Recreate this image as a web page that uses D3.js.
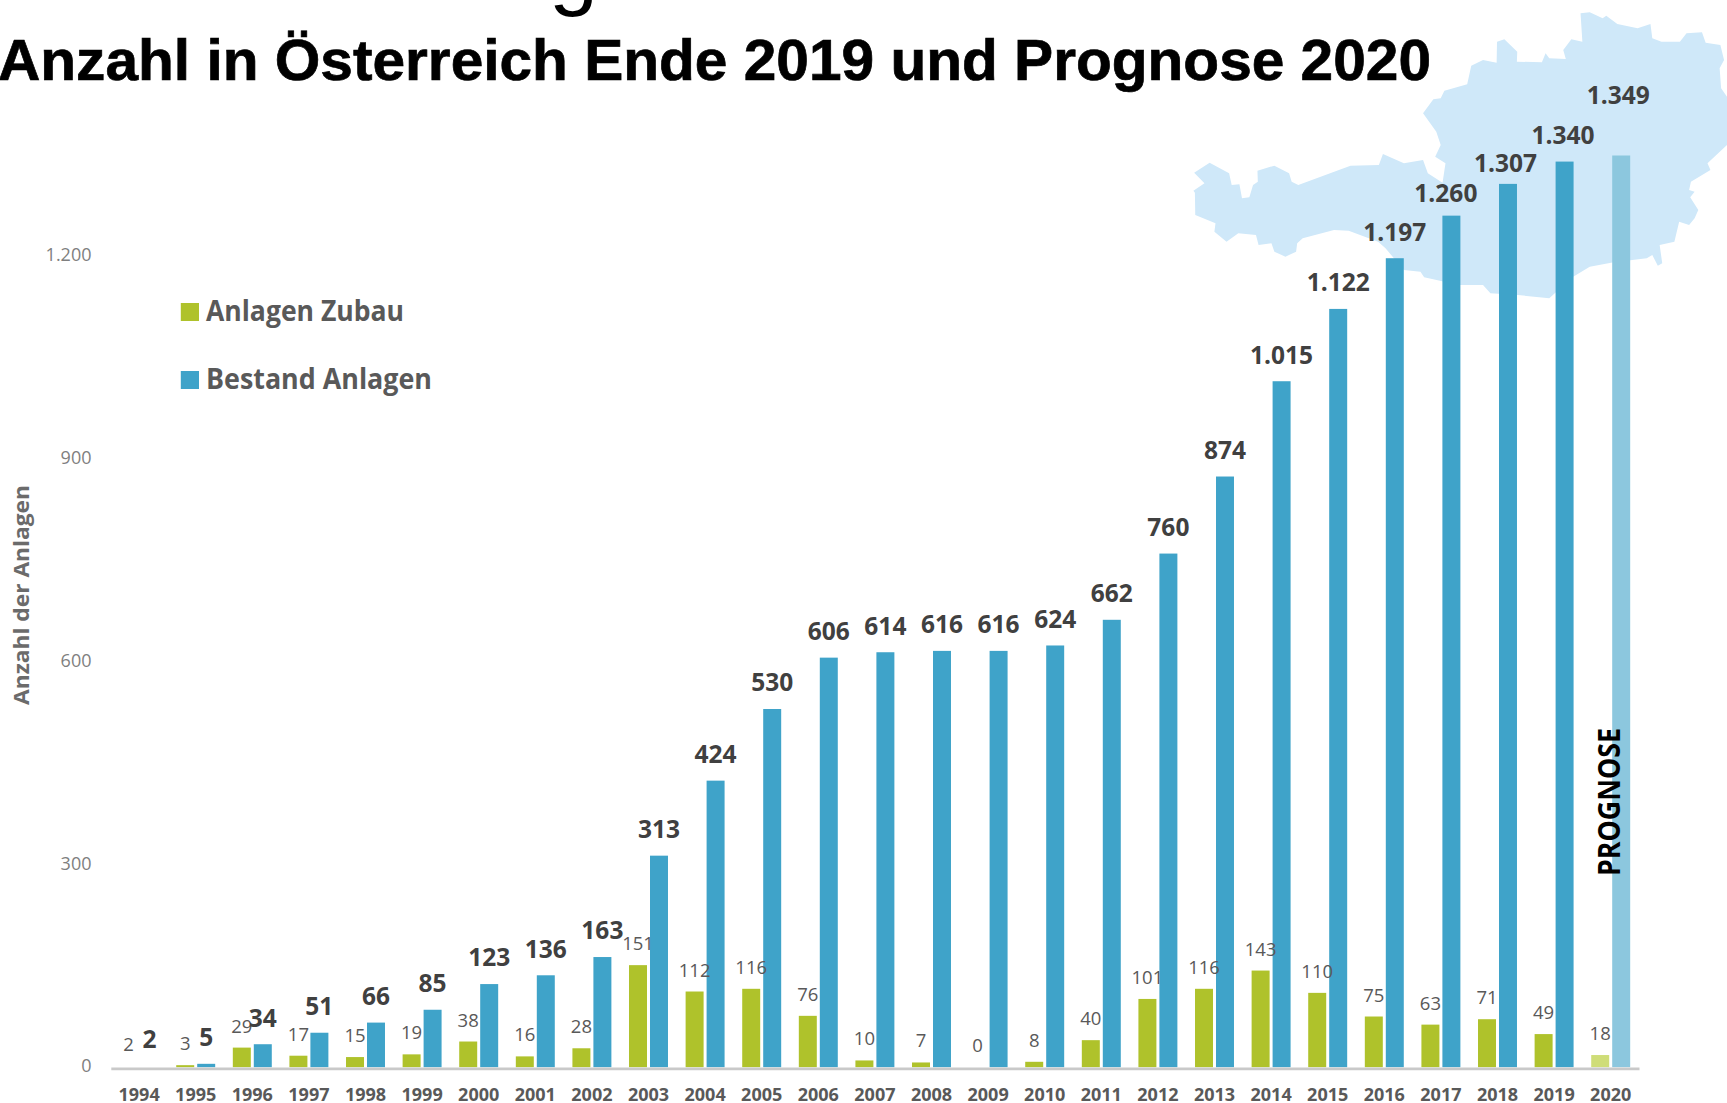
<!DOCTYPE html>
<html lang="de"><head><meta charset="utf-8">
<script src="https://cdn.jsdelivr.net/npm/d3@7/dist/d3.min.js"></script>
<style>
html,body{margin:0;padding:0;background:#fff;overflow:hidden}
svg{display:block}
.val{font-family:"Open Sans",sans-serif}
</style></head><body>
<svg id="c" width="1727" height="1103"></svg>
<script>
// ---- data ----
const years = [1994,1995,1996,1997,1998,1999,2000,2001,2002,2003,2004,2005,2006,2007,2008,2009,2010,2011,2012,2013,2014,2015,2016,2017,2018,2019,2020];
const zubau = [2,3,29,17,15,19,38,16,28,151,112,116,76,10,7,0,8,40,101,116,143,110,75,63,71,49,18];
const bestand = [2,5,34,51,66,85,123,136,163,313,424,530,606,614,616,616,624,662,760,874,1015,1122,1197,1260,1307,1340,1349];
const yTicks = [0,300,600,900,1200];
const seriesNames = ["Anlagen Zubau","Bestand Anlagen"];
const forecastYear = 2020;
const titleText = "Anzahl in Österreich Ende 2019 und Prognose 2020";
// hand-placed label nudges in the original chart [dx, extra gap]
const labelNudge = {2017:[-5.5,-3.5], 2018:[-2.5,-5.5], 2019:[-1.5,0], 2020:[-3,33.5]};
// outline of Austria, backdrop decoration (traced in a 1568x960 frame)
const austria = [[120,518],[162,488],[215,520],[222,555],[243,553],[250,595],[270,592],[280,555],[293,545],[292,512],[338,497],[378,520],[385,545],[403,555],[530,503],[545,497],[622,495],[633,462],[690,490],[742,480],[755,520],[795,548],[803,490],[775,470],[790,435],[778,395],[742,340],[770,298],[790,295],[800,272],[862,253],[873,197],[905,180],[942,188],[943,125],[963,118],[998,155],[997,185],[1065,187],[1075,160],[1085,175],[1130,177],[1123,150],[1145,118],[1175,125],[1170,40],[1195,37],[1230,55],[1240,47],[1270,72],[1325,85],[1360,72],[1365,115],[1390,125],[1440,125],[1458,100],[1500,97],[1510,128],[1550,135],[1560,180],[1548,205],[1552,265],[1568,290],[1568,435],[1515,490],[1523,510],[1470,545],[1465,570],[1480,575],[1468,592],[1490,630],[1480,655],[1465,675],[1438,665],[1425,725],[1385,735],[1392,790],[1380,797],[1365,765],[1350,775],[1260,787],[1195,800],[1150,830],[1085,895],[1000,885],[925,880],[905,855],[840,855],[745,832],[735,815],[690,810],[640,745],[620,725],[540,692],[500,690],[415,715],[400,730],[397,755],[368,770],[338,755],[330,730],[295,735],[288,705],[240,700],[208,725],[175,695],[178,670],[123,645],[122,578],[118,572],[148,550]];

// ---- scales ----
const svg = d3.select("#c");
const x = d3.scaleBand().domain(years).range([110.8,1639]);
const xs = d3.scaleBand().domain(seriesNames).range([0,x.step()]).paddingInner(3/21).paddingOuter(0.42);
const y = d3.scaleLinear().domain([0,1349]).range([1067.2,155.5]);
const de = d3.formatLocale({decimal:",",thousands:".",grouping:[3],currency:["","€"]}).format(",d");
const mapX = d3.scaleLinear().domain([0,1568]).range([1150,1727]);
const mapY = d3.scaleLinear().domain([0,960]).range([0,320]);
const rows = years.map((yr,i)=>({yr,z:zubau[i],b:bestand[i]}));
const FONT = '"Open Sans",sans-serif';
// the smallest bars do not register visually above the baseline in the reference
const visible = v => (y(0)-y(v)) >= 1.5 ? 1 : 0;

// backdrop map
svg.append("path").attr("fill","#cfe8f9")
  .attr("d", d3.line().x(d=>mapX(d[0])).y(d=>mapY(d[1])).curve(d3.curveLinearClosed)(austria));

// title
svg.append("text").text("g").attr("x",549).attr("y",-1.5)
  .attr("font-family","Liberation Sans").attr("font-size",88).attr("fill","#000");
svg.append("text").text(titleText).attr("x",-2).attr("y",80)
  .attr("font-family","Liberation Sans").attr("font-weight",700).attr("font-size",58)
  .attr("stroke","#000").attr("stroke-width",0.7)
  .attr("textLength",1433).attr("lengthAdjust","spacingAndGlyphs").attr("fill","#000");

// y axis
const yAxis = svg.append("g").attr("transform","translate(91.5,-1.2)")
  .call(d3.axisLeft(y).tickValues(yTicks).tickSize(0).tickPadding(0).tickFormat(de));
yAxis.select(".domain").remove();
yAxis.selectAll("text").attr("font-family",FONT).attr("font-size",18).attr("fill","#7f7f7f");

// bars
const g = svg.append("g").selectAll("g").data(rows).join("g")
  .attr("transform",d=>`translate(${x(d.yr)},0)`);
g.append("rect").attr("x",xs(seriesNames[0])).attr("width",xs.bandwidth())
  .attr("y",d=>y(d.z)).attr("height",d=>y(0)-y(d.z)).attr("opacity",d=>visible(d.z))
  .attr("fill",d=>d.yr===forecastYear?"#cfdd78":"#afc22b");
g.append("rect").attr("x",xs(seriesNames[1])).attr("width",xs.bandwidth())
  .attr("y",d=>y(d.b)).attr("height",d=>y(0)-y(d.b)).attr("opacity",d=>visible(d.b))
  .attr("fill",d=>d.yr===forecastYear?"#8cc7de":"#3fa3c9");

// baseline + x axis
const xAxis = svg.append("g").attr("transform",`translate(0,${y(0)+1.2})`)
  .call(d3.axisBottom(x).tickSize(0).tickPadding(19.6).tickFormat(d3.format("d")));
xAxis.select(".domain").attr("stroke","#c9c9c9").attr("stroke-width",2.6);
xAxis.selectAll("text").attr("font-family",FONT).attr("font-weight",700).attr("font-size",18).attr("fill","#595959");

// value labels
g.append("text").attr("class","val").text(d=>d.z)
  .attr("x",xs(seriesNames[0])+xs.bandwidth()/2).attr("y",d=>y(d.z)-15)
  .attr("text-anchor","middle").attr("font-size",18.5).attr("fill","#595959");
g.append("text").attr("class","val").text(d=>de(d.b))
  .attr("x",d=>xs(seriesNames[1])+xs.bandwidth()/2+(labelNudge[d.yr]?labelNudge[d.yr][0]:0))
  .attr("y",d=>y(d.b)-17.6-(labelNudge[d.yr]?labelNudge[d.yr][1]:0))
  .attr("text-anchor","middle").attr("font-size",24.5).attr("font-weight",700).attr("fill","#404040");

// legend
const colors = ["#afc22b","#3fa3c9"];
const legendY = [303,371], legendW = [198,226];
seriesNames.forEach((n,i)=>{
  svg.append("rect").attr("x",180.8).attr("y",legendY[i]).attr("width",18.2).attr("height",18).attr("fill",colors[i]);
  svg.append("text").text(n).attr("x",206).attr("y",legendY[i]+17.5)
    .attr("font-family",FONT).attr("font-weight",700).attr("font-size",28).attr("fill","#595959")
    .attr("textLength",legendW[i]).attr("lengthAdjust","spacingAndGlyphs");
});

// axis title
svg.append("text").text("Anzahl der Anlagen")
  .attr("transform","translate(29,595) rotate(-90)").attr("text-anchor","middle")
  .attr("font-family",FONT).attr("font-weight",700).attr("font-size",22).attr("fill","#6b6b6b")
  .attr("textLength",220).attr("lengthAdjust","spacingAndGlyphs");

// forecast note
svg.append("text").text("PROGNOSE")
  .attr("transform","translate(1620,876) rotate(-90)")
  .attr("font-family",FONT).attr("font-weight",700).attr("font-size",31).attr("fill","#000")
  .attr("textLength",148).attr("lengthAdjust","spacingAndGlyphs");
</script></body></html>
